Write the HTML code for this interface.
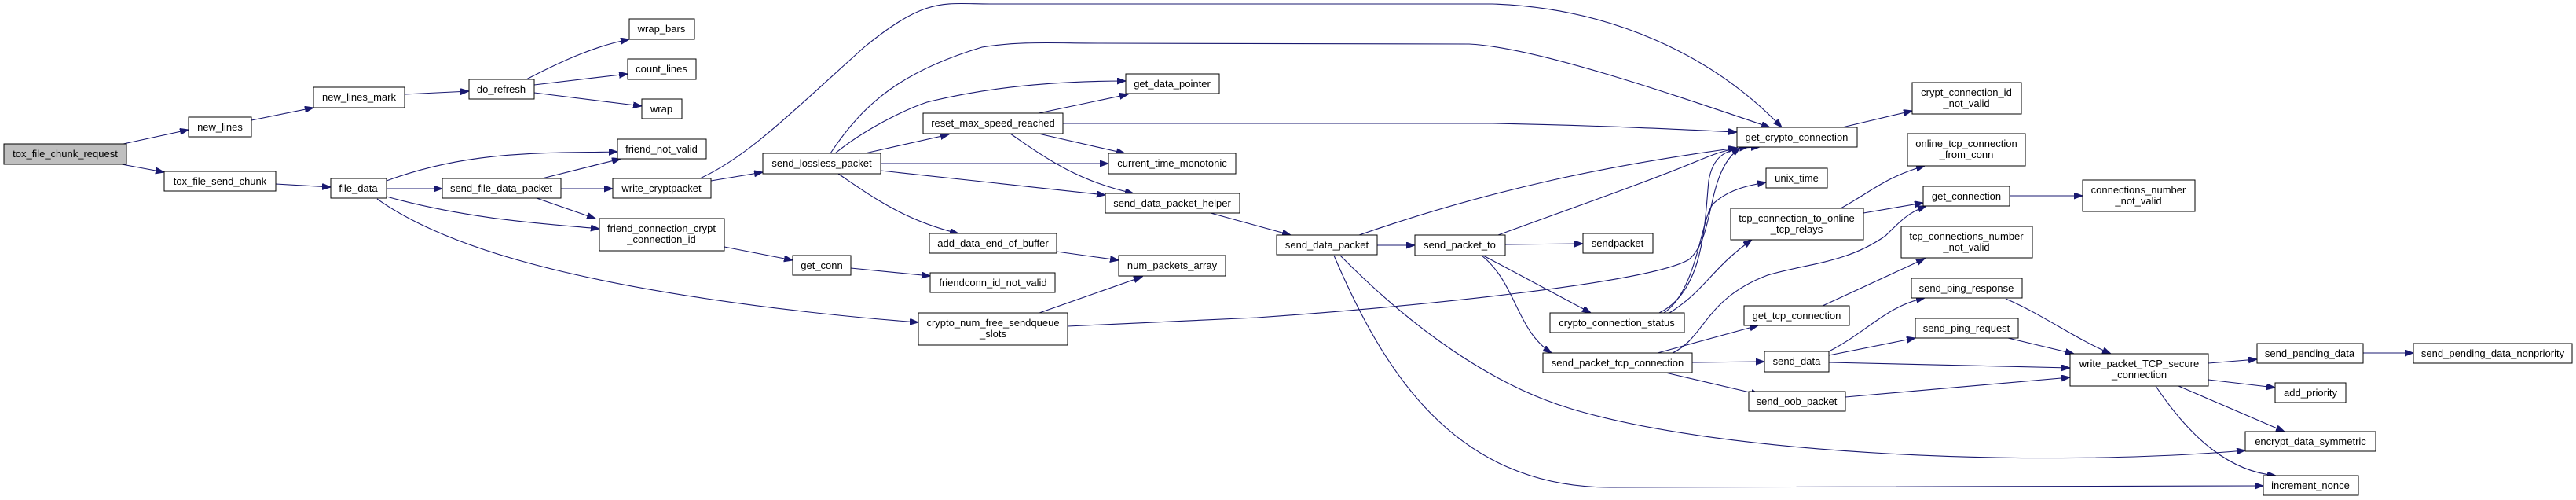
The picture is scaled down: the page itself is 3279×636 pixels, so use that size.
<!DOCTYPE html>
<html><head><meta charset="utf-8"><style>
html,body{margin:0;padding:0;background:#fff;}
svg{display:block;}
text{font-family:"Liberation Sans",sans-serif;font-size:13px;fill:#000;}
.e{fill:none;stroke:#191970;stroke-width:1.1;marker-end:url(#a);}
.n{fill:#fff;stroke:#000;stroke-width:1;}
</style></head><body>
<svg width="3279" height="636" viewBox="0 0 3279 636" xmlns="http://www.w3.org/2000/svg">
<defs><marker id="a" markerUnits="userSpaceOnUse" markerWidth="12" markerHeight="9" refX="11" refY="4" orient="auto"><path d="M0,0 L11,4 L0,8 z" fill="#191970" stroke="#191970"/></marker></defs>
<g>
<path class="e" d="M157,183 L240,165"/>
<path class="e" d="M155,209 L209,219"/>
<path class="e" d="M320,153 L399,137"/>
<path class="e" d="M515,120 L597,116"/>
<path class="e" d="M670,101 C720,75 760,58 801,50"/>
<path class="e" d="M680,108 L799,94"/>
<path class="e" d="M680,118 L817,135"/>
<path class="e" d="M351,234 L421,238"/>
<path class="e" d="M492,230 C600,190 700,195 786,193"/>
<path class="e" d="M492,240 L563,240"/>
<path class="e" d="M492,250 C600,280 700,285 763,291"/>
<path class="e" d="M480,253 C560,310 700,350 900,380 C1000,395 1100,405 1169,410"/>
<path class="e" d="M690,227 L790,202"/>
<path class="e" d="M714,240 L780,240"/>
<path class="e" d="M683,252 L758,278"/>
<path class="e" d="M905,230 L971,219"/>
<path class="e" d="M891,227 C950,200 1000,150 1100,60 C1180,-5 1200,5 1260,5 L1900,5 C2050,10 2180,70 2268,162"/>
<path class="e" d="M1057,195 C1100,130 1150,90 1250,60 C1300,52 1340,55 1400,55 L1870,56 C1950,60 2100,110 2253,162"/>
<path class="e" d="M1063,195 C1100,165 1150,140 1180,130 C1280,105 1380,103 1433,103"/>
<path class="e" d="M1101,195 L1208,171"/>
<path class="e" d="M1121,208 L1411,208"/>
<path class="e" d="M1121,217 L1407,248"/>
<path class="e" d="M1067,221 C1110,250 1150,280 1220,297"/>
<path class="e" d="M1322,144 L1436,120"/>
<path class="e" d="M1322,170 L1432,195"/>
<path class="e" d="M1286,170 C1330,200 1370,230 1443,246"/>
<path class="e" d="M1353,157 L1900,157 C2050,160 2150,165 2211,168"/>
<path class="e" d="M922,314 L1009,331"/>
<path class="e" d="M1083,341 L1184,351"/>
<path class="e" d="M1345,320 L1424,331"/>
<path class="e" d="M1323,398 L1454,352"/>
<path class="e" d="M1359,415 L1600,404 C1800,390 2100,360 2150,330 C2185,300 2170,220 2215,188"/>
<path class="e" d="M1541,271 L1643,299"/>
<path class="e" d="M1730,299 C1900,240 2050,210 2211,188"/>
<path class="e" d="M1753,312 L1801,312"/>
<path class="e" d="M1706,325 C1800,420 1900,490 2000,520 C2200,580 2600,595 2858,573"/>
<path class="e" d="M1698,325 C1760,470 1850,620 2050,620 L2881,618"/>
<path class="e" d="M1907,299 C2000,265 2100,230 2160,205 C2190,193 2200,188 2240,187"/>
<path class="e" d="M1916,311 L2015,310"/>
<path class="e" d="M1888,325 L2025,398"/>
<path class="e" d="M1886,325 C1930,360 1930,420 1975,449"/>
<path class="e" d="M2112,398 C2170,370 2170,280 2175,230 C2180,200 2195,190 2225,187"/>
<path class="e" d="M2118,398 C2160,370 2165,280 2180,260 C2200,240 2230,235 2248,232"/>
<path class="e" d="M2125,398 C2170,370 2180,340 2230,305"/>
<path class="e" d="M2110,449 L2238,414"/>
<path class="e" d="M2129,449 C2170,430 2170,380 2250,350 C2300,335 2350,335 2400,300 C2420,280 2430,270 2452,262"/>
<path class="e" d="M2154,461 L2246,460"/>
<path class="e" d="M2120,474 L2240,502"/>
<path class="e" d="M2343,265 C2380,245 2400,225 2450,211"/>
<path class="e" d="M2372,271 L2448,258"/>
<path class="e" d="M2320,389 L2450,329"/>
<path class="e" d="M2345,162 L2434,141"/>
<path class="e" d="M2558,249 L2651,249"/>
<path class="e" d="M2328,447 C2380,420 2400,390 2450,379"/>
<path class="e" d="M2328,452 L2438,430"/>
<path class="e" d="M2328,461 L2635,468"/>
<path class="e" d="M2349,505 L2635,480"/>
<path class="e" d="M2553,380 C2600,400 2640,430 2687,450"/>
<path class="e" d="M2556,430 L2640,450"/>
<path class="e" d="M2811,462 L2873,457"/>
<path class="e" d="M2811,483 L2896,493"/>
<path class="e" d="M2773,491 L2908,549"/>
<path class="e" d="M2744,491 C2790,560 2840,600 2897,605"/>
<path class="e" d="M3008,449 L3072,449"/>
</g>
<g text-anchor="middle">
<rect x="5" y="183" width="156" height="26" fill="#bfbfbf" stroke="#000"/><text x="83" y="200">tox_file_chunk_request</text>
<rect class="n" x="240" y="149" width="80" height="25"/><text x="280" y="166">new_lines</text>
<rect class="n" x="399" y="111" width="116" height="26"/><text x="457" y="128">new_lines_mark</text>
<rect class="n" x="597" y="101" width="83" height="25"/><text x="638" y="118">do_refresh</text>
<rect class="n" x="209" y="218" width="142" height="25"/><text x="280" y="235">tox_file_send_chunk</text>
<rect class="n" x="421" y="227" width="71" height="25"/><text x="456" y="244">file_data</text>
<rect class="n" x="563" y="227" width="151" height="25"/><text x="638" y="244">send_file_data_packet</text>
<rect class="n" x="801" y="24" width="83" height="26"/><text x="842" y="41">wrap_bars</text>
<rect class="n" x="799" y="75" width="87" height="26"/><text x="842" y="92">count_lines</text>
<rect class="n" x="817" y="126" width="51" height="25"/><text x="842" y="143">wrap</text>
<rect class="n" x="786" y="177" width="113" height="25"/><text x="842" y="194">friend_not_valid</text>
<rect class="n" x="780" y="227" width="125" height="25"/><text x="842" y="244">write_cryptpacket</text>
<rect class="n" x="763" y="278" width="159" height="41"/><text x="842" y="295">friend_connection_crypt</text><text x="842" y="309">_connection_id</text>
<rect class="n" x="971" y="195" width="150" height="26"/><text x="1046" y="212">send_lossless_packet</text>
<rect class="n" x="1009" y="325" width="74" height="25"/><text x="1046" y="342">get_conn</text>
<rect class="n" x="1175" y="144" width="178" height="26"/><text x="1264" y="161">reset_max_speed_reached</text>
<rect class="n" x="1433" y="94" width="119" height="25"/><text x="1492" y="111">get_data_pointer</text>
<rect class="n" x="1411" y="195" width="162" height="26"/><text x="1492" y="212">current_time_monotonic</text>
<rect class="n" x="1407" y="246" width="171" height="25"/><text x="1492" y="263">send_data_packet_helper</text>
<rect class="n" x="1183" y="297" width="162" height="25"/><text x="1264" y="314">add_data_end_of_buffer</text>
<rect class="n" x="1184" y="347" width="159" height="25"/><text x="1264" y="364">friendconn_id_not_valid</text>
<rect class="n" x="1424" y="325" width="136" height="26"/><text x="1492" y="342">num_packets_array</text>
<rect class="n" x="1169" y="398" width="190" height="41"/><text x="1264" y="415">crypto_num_free_sendqueue</text><text x="1264" y="429">_slots</text>
<rect class="n" x="2211" y="162" width="153" height="25"/><text x="2287" y="179">get_crypto_connection</text>
<rect class="n" x="2248" y="214" width="78" height="25"/><text x="2287" y="231">unix_time</text>
<rect class="n" x="2203" y="265" width="169" height="40"/><text x="2287" y="282">tcp_connection_to_online</text><text x="2287" y="296">_tcp_relays</text>
<rect class="n" x="1625" y="299" width="128" height="25"/><text x="1689" y="316">send_data_packet</text>
<rect class="n" x="1801" y="299" width="115" height="26"/><text x="1858" y="316">send_packet_to</text>
<rect class="n" x="2015" y="297" width="89" height="25"/><text x="2059" y="314">sendpacket</text>
<rect class="n" x="1973" y="398" width="171" height="25"/><text x="2058" y="415">crypto_connection_status</text>
<rect class="n" x="1964" y="449" width="190" height="25"/><text x="2059" y="466">send_packet_tcp_connection</text>
<rect class="n" x="2220" y="389" width="134" height="25"/><text x="2287" y="406">get_tcp_connection</text>
<rect class="n" x="2246" y="447" width="82" height="26"/><text x="2287" y="464">send_data</text>
<rect class="n" x="2226" y="498" width="123" height="25"/><text x="2287" y="515">send_oob_packet</text>
<rect class="n" x="2434" y="105" width="139" height="40"/><text x="2503" y="122">crypt_connection_id</text><text x="2503" y="136">_not_valid</text>
<rect class="n" x="2428" y="170" width="150" height="41"/><text x="2503" y="187">online_tcp_connection</text><text x="2503" y="201">_from_conn</text>
<rect class="n" x="2448" y="237" width="110" height="25"/><text x="2503" y="254">get_connection</text>
<rect class="n" x="2651" y="229" width="143" height="40"/><text x="2722" y="246">connections_number</text><text x="2722" y="260">_not_valid</text>
<rect class="n" x="2420" y="288" width="167" height="40"/><text x="2503" y="305">tcp_connections_number</text><text x="2503" y="319">_not_valid</text>
<rect class="n" x="2433" y="354" width="141" height="25"/><text x="2503" y="371">send_ping_response</text>
<rect class="n" x="2438" y="405" width="131" height="25"/><text x="2503" y="422">send_ping_request</text>
<rect class="n" x="2635" y="450" width="176" height="41"/><text x="2723" y="467">write_packet_TCP_secure</text><text x="2723" y="481">_connection</text>
<rect class="n" x="2873" y="437" width="135" height="25"/><text x="2940" y="454">send_pending_data</text>
<rect class="n" x="3072" y="437" width="202" height="25"/><text x="3173" y="454">send_pending_data_nonpriority</text>
<rect class="n" x="2896" y="487" width="90" height="25"/><text x="2941" y="504">add_priority</text>
<rect class="n" x="2858" y="549" width="166" height="25"/><text x="2941" y="566">encrypt_data_symmetric</text>
<rect class="n" x="2881" y="605" width="121" height="25"/><text x="2941" y="622">increment_nonce</text>
</g>
</svg>
</body></html>
